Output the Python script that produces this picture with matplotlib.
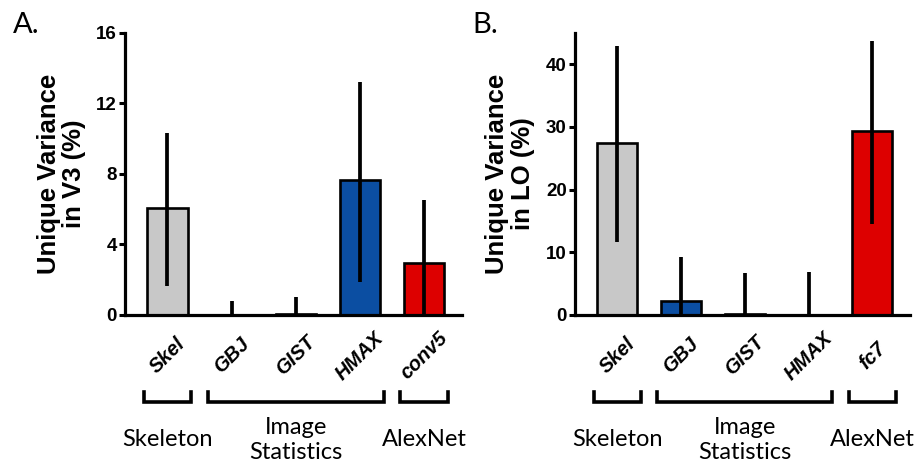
import numpy as np
import matplotlib
matplotlib.use("Agg")
import matplotlib.pyplot as plt
import matplotlib.transforms as mtrans

plt.rcParams['font.family'] = ['Liberation Sans', 'DejaVu Sans']

# data
models_a = ["Skel", "GBJ", "GIST", "HMAX", "conv5"]
models_b = ["Skel", "GBJ", "GIST", "HMAX", "fc7"]
colors = ["#c8c8c8", "#0b4ea2", "#0b4ea2", "#0b4ea2", "#dd0000"]

v3_mean = [6.05, 0.0, 0.05, 7.65, 2.95]
v3_high = [10.3, 0.8, 1.0, 13.2, 6.5]
v3_low = [1.65, 0.0, 0.0, 1.9, 0.0]

lo_mean = [27.5, 2.3, 0.2, 0.0, 29.3]
lo_high = [43.0, 9.3, 6.7, 6.8, 43.7]
lo_low = [11.7, 0.0, 0.0, 0.0, 14.5]

groups = [("Skeleton", 0, 0), ("Image\nStatistics", 1, 3), ("AlexNet", 4, 4)]


def panel(ax, names, mean, low, high, ylim, yticks, ylab):
    x = np.arange(len(names))
    mean = np.array(mean)
    yerr = [mean - np.array(low), np.array(high) - mean]
    ax.bar(x, mean, width=0.63, color=colors, edgecolor="black", linewidth=1.9, zorder=2)
    ax.errorbar(x, mean, yerr=yerr, fmt="none", ecolor="black", elinewidth=2.7,
                capsize=0, zorder=3)
    ax.set_ylim(*ylim)
    ax.set_xlim(-0.66, 4.59)
    ax.set_yticks(yticks)
    ax.set_xticks([])
    for s in ["top", "right"]:
        ax.spines[s].set_visible(False)
    for s in ["left", "bottom"]:
        ax.spines[s].set_linewidth(2.3)
    ax.tick_params(axis="y", direction="out", length=4, width=2.2, labelsize=13.5, pad=2)
    for lab in ax.get_yticklabels():
        lab.set_fontweight("bold")
    ax.set_ylabel(ylab, fontsize=18.5, fontweight="bold", va="center", linespacing=1.08)

    trans = mtrans.blended_transform_factory(ax.transData, ax.transAxes)
    for i, n in enumerate(names):
        ax.text(i, -0.145, n, transform=trans, rotation=45, ha="center", va="center",
                fontsize=14.5, fontweight="bold", fontstyle="italic")
    for name, i0, i1 in groups:
        xa, xb = i0 - 0.37, i1 + 0.37
        ax.plot([xa, xa, xb, xb], [-0.272, -0.31, -0.31, -0.272], transform=trans,
                color="black", lw=2.6, clip_on=False, solid_joinstyle="miter")
        ax.text((i0 + i1) / 2, -0.443, name, transform=trans, ha="center", va="center",
                fontsize=17, family=["Lato", "DejaVu Sans"], linespacing=1.2)


fig = plt.figure(figsize=(9.24, 4.70), dpi=100)
ax1 = fig.add_axes([0.1353, 0.3298, 0.3647, 0.60])
ax2 = fig.add_axes([0.6223, 0.3298, 0.3626, 0.60])

panel(ax1, models_a, v3_mean, v3_low, v3_high, (0, 16), [0, 4, 8, 12, 16],
      "Unique Variance\nin V3 (%)")
panel(ax2, models_b, lo_mean, lo_low, lo_high, (0, 45), [0, 10, 20, 30, 40],
      "Unique Variance\nin LO (%)")
ax1.yaxis.set_label_coords(-0.188, 0.5)
ax2.yaxis.set_label_coords(-0.194, 0.5)

fig.text(13 / 924, 1 - 12 / 470, "A.", fontsize=21, va="top", ha="left",
         family=["Lato", "DejaVu Sans"])
fig.text(472 / 924, 1 - 12 / 470, "B.", fontsize=21, va="top", ha="left",
         family=["Lato", "DejaVu Sans"])

fig.savefig("out.png", dpi=100)
